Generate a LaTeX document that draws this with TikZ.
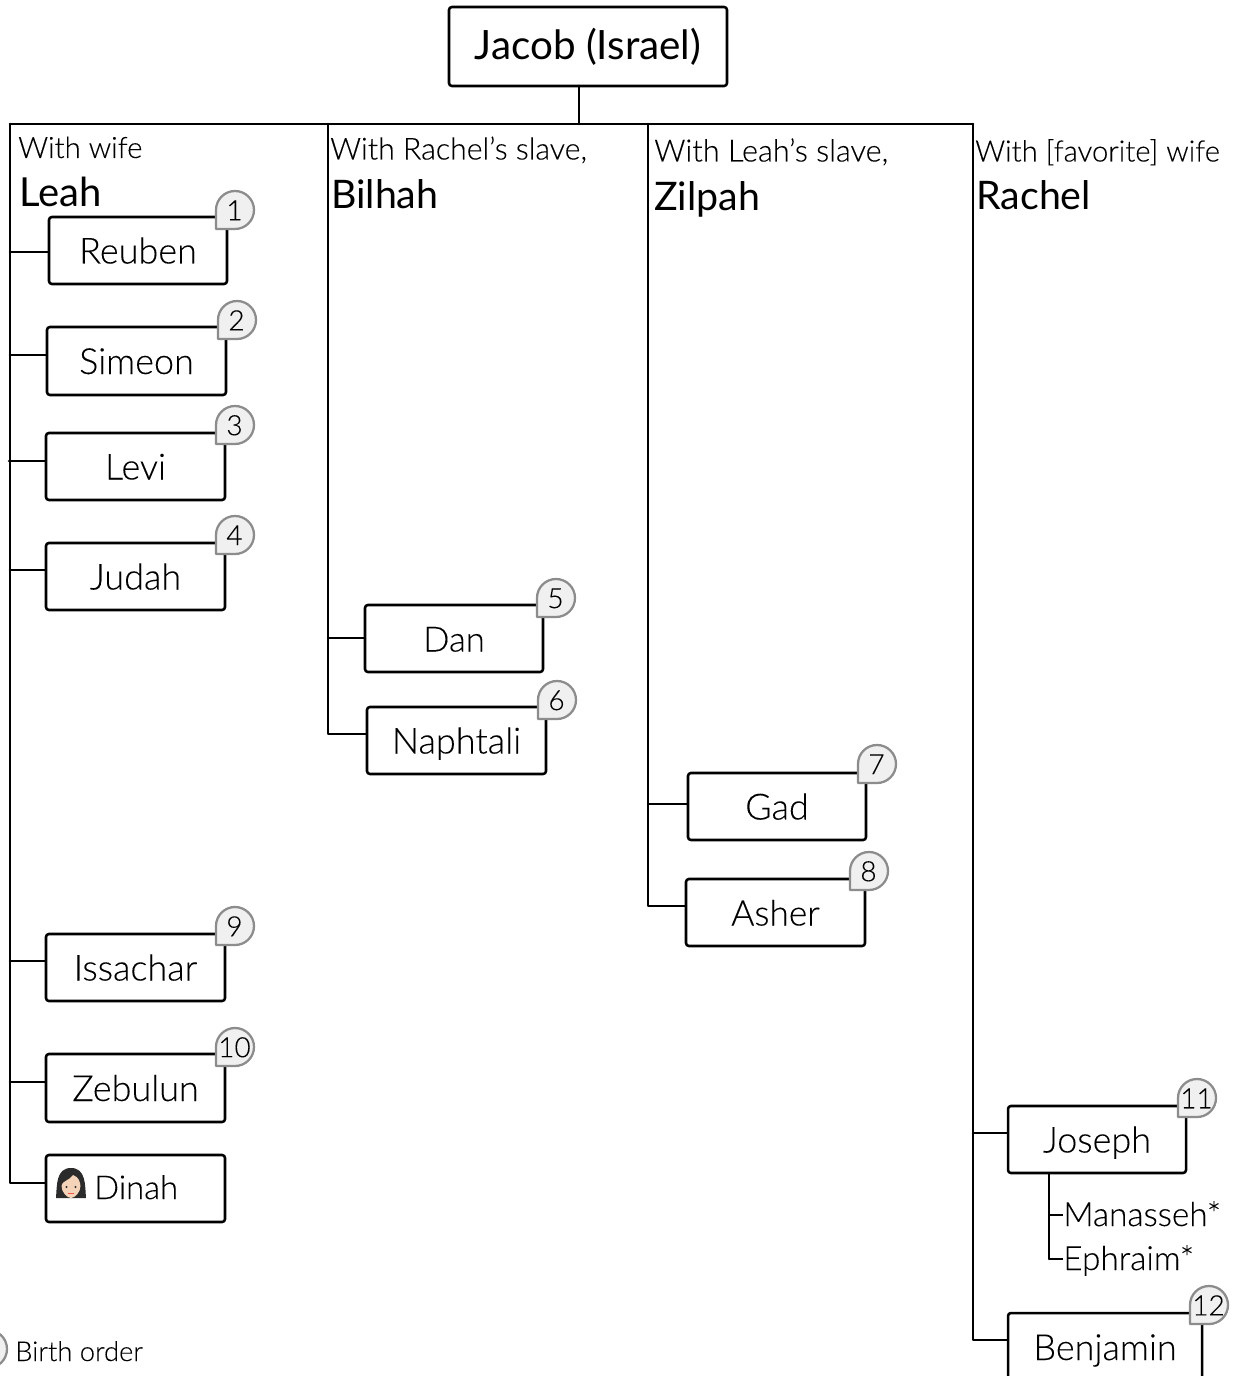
\documentclass[tikz,border=0pt]{standalone}
\usepackage{fontspec}
\setmainfont{Lato Light}
\newfontfamily\lightf{Lato Light}[FakeBold=0.12]
\newfontfamily\reg{Lato}
\definecolor{bg}{HTML}{F0F0F0}
\definecolor{bl}{HTML}{8C8C8C}
\definecolor{hair}{HTML}{2B2B2B}
\definecolor{skin}{HTML}{F5D3B8}
\tikzset{
  line/.style={draw=black,line width=1.9pt,line cap=round,line join=round},
  thinline/.style={draw=black,line width=0.8pt},
  person/.style={draw=black,line width=1.9pt,rounded corners=2.2pt,fill=white,inner sep=0pt,align=center},
  kid/.style={person,text height=19.5pt,text depth=0pt,font=\lightf\fontsize{27pt}{27pt}\selectfont},
  head/.style={anchor=base west,inner sep=0pt,font=\lightf\fontsize{22pt}{22pt}\selectfont},
  big/.style={anchor=base west,inner sep=0pt,font=\reg\fontsize{29.5pt}{29.5pt}\selectfont},
  num/.style={inner sep=0pt,font=\lightf\fontsize{21pt}{21pt}\selectfont},
  child/.style={anchor=base west,inner sep=0pt,font=\lightf\fontsize{25pt}{25pt}\selectfont},
}
\newcommand{\badge}[4]{%
  \begin{scope}[shift={(#1,#2)}]
    \path[draw=bl,fill=bg,line width=1.7pt,line join=round]
      (-19,19) -- (-19,0) .. controls (-19,-10.5) and (-10.5,-19) .. (0,-19)
      .. controls (10.5,-19) and (19,-10.5) .. (19,0)
      .. controls (19,10.5) and (10.5,19) .. (0,19) -- cycle;
    \node[num] (#3) at (-0.5,0.3) {#4};
  \end{scope}}
\newcommand{\pbox}[6]{% name, x1, y1, x2, y2, text
  \node[kid,minimum width=(#4-#2)*0.75pt,minimum height=(#5-#3)*0.75pt] (#1) at ({(#2+#4)/2},{(#3+#5)/2}) {#6};}
\begin{document}
\begin{tikzpicture}[x=0.75pt,y=-0.75pt]
\clip (0,0) rectangle (1235,1376);
\fill[white] (0,0) rectangle (1235,1376);
% boxes
\node[person,minimum width=208.5pt,minimum height=59.25pt,font=\reg\fontsize{30.3pt}{30.3pt}\selectfont] (jacob) at (588,46.5) {Jacob (Israel)};
\pbox{reuben}{49}{217}{227}{284}{Reuben}
\pbox{simeon}{47}{327}{226}{395}{Simeon}
\pbox{levi}{46}{433}{225}{500}{Levi}
\pbox{judah}{46}{543}{225}{610}{Judah}
\pbox{issachar}{46}{934}{225}{1001}{Issachar}
\pbox{zebulun}{46}{1054}{225}{1122}{Zebulun}
\pbox{dinah}{46}{1155}{225}{1222}{}
\pbox{dan}{365}{605}{543}{672}{\fontsize{26pt}{26pt}\selectfont Dan}
\pbox{naphtali}{367}{707}{546}{774}{Naphtali}
\pbox{gad}{688}{773}{866}{840}{Gad}
\pbox{asher}{686}{879}{865}{946}{\fontsize{26.5pt}{26.5pt}\selectfont Asher}
\pbox{joseph}{1008}{1106}{1186}{1173}{Joseph}
\pbox{benjamin}{1008}{1313}{1202}{1381}{Benjamin}
% trunk coordinates
\coordinate (stem) at (579,86);
\coordinate (top) at (579,124);
\coordinate (tl) at (10,124);
\coordinate (tb) at (328,124);
\coordinate (tz) at (648,124);
\coordinate (tr) at (973,124);
\coordinate (jr) at (10,252);
\coordinate (js) at (10,355);
\coordinate (jl) at (9,461);
\coordinate (jj) at (10,570);
\coordinate (ji) at (10,961);
\coordinate (jz) at (10,1082);
\coordinate (jd) at (10,1183);
\coordinate (jdan) at (328,638);
\coordinate (jn) at (328,734);
\coordinate (jg) at (648,804);
\coordinate (ja) at (648,906);
\coordinate (jjo) at (973,1133);
\coordinate (jb) at (973,1340);
\coordinate (sub) at (1049,1173);
% connectors
\draw[line] (stem) -- (top);
\draw[line] (tl) -- (tr);
\draw[line] (tl) -- (jd) -- (jd -| dinah.west);
\draw[line] (tb) -- (jn) -- (jn -| naphtali.west);
\draw[line] (tz) -- (ja) -- (ja -| asher.west);
\draw[line] (tr) -- (jb) -- (jb -| benjamin.west);
\foreach \j/\n in {jr/reuben,js/simeon,jl/levi,jj/judah,ji/issachar,jz/zebulun,jdan/dan,jg/gad,jjo/joseph}
  \draw[line] (\j) -- (\j -| \n.west);
% children of Joseph
\node[child] (man) at (1063,1226) {Manasseh*};
\node[child] (eph) at (1063,1270) {Ephraim*};
\coordinate (mj) at (1049,1215);
\coordinate (ej) at (1049,1259);
\draw[line] (sub) -- (ej);
\draw[thinline] (mj) -- (mj -| man.west);
\draw[thinline] (ej) -- (ej -| eph.west);
% headers
\node[head] (h1) at (18,158) {With wife};
\node[big,font=\reg\fontsize{30pt}{30pt}\selectfont] (n1) at (19,207) {Leah};
\node[head,font=\lightf\fontsize{22.7pt}{22.7pt}\selectfont] (h2) at (330,159.5) {With Rachel’s slave,};
\node[big] (n2) at (331,209) {Bilhah};
\node[head,font=\lightf\fontsize{23pt}{23pt}\selectfont] (h3) at (654,161.5) {With Leah’s slave,};
\node[big] (n3) at (654,211) {Zilpah};
\node[head] (h4) at (975,161.5) {With [favorite] wife};
\node[big] (n4) at (976,210) {Rachel};
% badges
\badge{235}{210}{b1}{1}
\badge{237}{320}{b2}{2}
\badge{235}{425}{b3}{3}
\badge{235}{535}{b4}{4}
\badge{556}{598}{b5}{5}
\badge{557}{700}{b6}{6}
\badge{877}{764}{b7}{7}
\badge{869}{871}{b8}{8}
\badge{235}{926}{b9}{9}
\badge{235}{1047}{b10}{10}
\badge{1197}{1098}{b11}{11}
\badge{1209}{1305}{b12}{12}
% legend
\path[draw=bl,fill=bg,line width=1.7pt] (-12,1349) circle[radius=14.25pt];
\node[anchor=base west,inner sep=0pt,font=\lightf\fontsize{20.5pt}{20.5pt}\selectfont] (legend) at (15,1361) {Birth order};
% Dinah
\node[anchor=base west,inner sep=0pt,font=\lightf\fontsize{24.6pt}{24.6pt}\selectfont] (dtext) at (94,1199) {Dinah};
% emoji
\path[fill=hair] (56,1198) .. controls (57,1185) and (56,1168) .. (71,1168)
  .. controls (86,1168) and (85,1185) .. (86,1198) -- cycle;
\path[fill=skin] (73,1175) .. controls (79,1177) and (80,1182) .. (80.5,1186)
  .. controls (80.5,1192) and (75,1198) .. (71,1198)
  .. controls (67,1198) and (61.5,1192) .. (61.5,1186)
  .. controls (61.5,1181) and (69,1181) .. (73,1175) -- cycle;
\fill[hair] (66.5,1187) circle[radius=0.9pt] (75.5,1187) circle[radius=0.9pt];
\fill[red!60!skin] (68,1192.5) rectangle (74,1193.8);
\end{tikzpicture}
\end{document}
